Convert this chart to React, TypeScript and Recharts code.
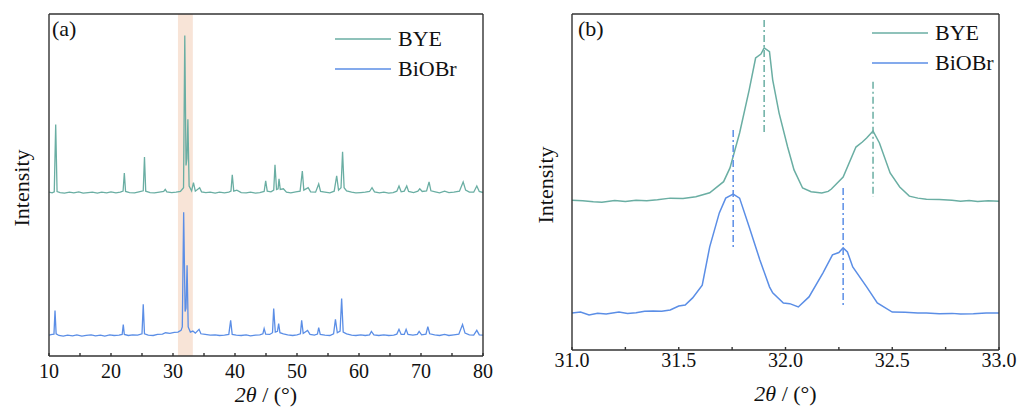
import React from "react";
import { LineChart, Line, XAxis, YAxis, ReferenceArea, ReferenceLine, Legend } from "recharts";

// XRD patterns, panel (a): [2θ, intensity a.u.]
const BYE_A: [number, number][] = [
  [10.0, 6.2], [10.5, 6.0], [10.85, 6.3], [11.08, 26.0], [11.3, 6.4], [11.8, 6.1], [12.5, 5.9], [13.3, 6.2],
  [14.0, 6.0], [14.8, 6.3], [15.5, 5.9], [16.3, 6.1], [17.0, 6.2], [17.8, 5.9], [18.5, 6.2], [19.3, 6.0],
  [20.0, 6.3], [20.8, 6.0], [21.5, 6.2], [21.95, 6.5], [22.15, 11.8], [22.35, 6.4], [23.0, 6.1], [23.8, 6.0],
  [24.5, 6.3], [25.2, 6.6], [25.4, 16.5], [25.6, 6.5], [26.3, 6.1], [27.0, 6.0], [27.8, 6.2], [28.5, 6.4],
  [28.75, 7.0], [29.0, 6.3], [29.8, 6.1], [30.5, 6.2], [31.2, 6.4], [31.7, 7.5], [31.9, 52.0], [32.1, 14.0],
  [32.25, 16.0], [32.4, 27.5], [32.6, 8.0], [33.0, 6.6], [33.3, 9.0], [33.6, 6.5], [34.3, 7.5], [34.6, 6.3],
  [35.3, 6.1], [36.0, 6.2], [36.8, 5.9], [37.5, 6.2], [38.3, 6.0], [39.0, 6.2], [39.35, 6.5], [39.56, 11.3],
  [39.8, 6.5], [40.3, 6.8], [41.0, 6.1], [41.8, 6.0], [42.5, 6.2], [43.3, 5.9], [44.0, 6.1], [44.7, 6.4],
  [44.95, 9.5], [45.2, 6.5], [45.8, 6.3], [46.25, 6.8], [46.45, 14.2], [46.7, 7.0], [46.95, 7.2], [47.1, 10.1],
  [47.3, 7.0], [47.8, 7.2], [48.3, 6.2], [49.0, 6.0], [49.8, 6.3], [50.5, 6.5], [50.86, 12.4], [51.1, 6.8],
  [51.8, 7.5], [52.2, 6.3], [53.0, 6.2], [53.5, 8.6], [53.8, 6.4], [54.5, 6.2], [55.3, 6.0], [56.0, 6.5],
  [56.4, 11.0], [56.7, 6.8], [57.1, 7.5], [57.35, 18.0], [57.6, 7.5], [58.0, 6.6], [58.8, 6.2], [59.5, 6.0],
  [60.3, 6.1], [61.0, 6.2], [61.7, 6.4], [62.1, 7.5], [62.5, 6.3], [63.3, 6.0], [64.0, 6.2], [64.8, 5.9],
  [65.5, 6.1], [66.1, 6.5], [66.45, 8.0], [66.8, 6.3], [67.3, 6.5], [67.7, 8.0], [68.0, 6.4], [68.8, 6.1],
  [69.5, 6.5], [69.8, 7.2], [70.2, 6.4], [70.9, 6.6], [71.3, 9.2], [71.6, 6.6], [72.3, 6.3], [73.0, 6.0],
  [73.8, 6.5], [74.5, 6.1], [75.3, 6.2], [76.2, 6.5], [76.8, 9.2], [77.2, 6.8], [77.8, 6.2], [78.5, 6.2],
  [79.0, 8.0], [79.4, 6.4], [80.0, 6.1],
];

const BIOBR_A: [number, number][] = [
  [10.0, 6.1], [10.5, 6.3], [10.8, 6.4], [10.97, 13.3], [11.15, 6.5], [11.6, 6.0], [12.3, 5.8], [13.0, 6.1],
  [13.8, 5.9], [14.5, 6.2], [15.3, 5.8], [16.0, 6.0], [16.8, 6.2], [17.5, 5.9], [18.3, 6.1], [19.0, 5.8],
  [19.8, 6.2], [20.5, 6.0], [21.3, 6.1], [21.8, 6.3], [21.98, 9.2], [22.15, 6.3], [22.8, 6.0], [23.5, 6.2],
  [24.3, 6.1], [25.0, 6.5], [25.2, 15.1], [25.4, 6.5], [26.0, 6.1], [26.8, 6.0], [27.5, 6.3], [28.3, 6.4],
  [28.8, 6.8], [29.5, 6.6], [30.2, 6.9], [30.8, 7.0], [31.3, 7.5], [31.5, 8.5], [31.72, 42.0], [31.95, 13.0],
  [32.1, 14.0], [32.27, 26.5], [32.45, 8.5], [32.8, 7.0], [33.2, 7.3], [33.6, 6.7], [34.2, 7.8], [34.5, 6.5],
  [35.2, 6.3], [36.0, 6.1], [36.8, 6.2], [37.5, 6.0], [38.3, 6.1], [39.0, 6.3], [39.3, 10.4], [39.55, 6.3],
  [40.2, 6.1], [41.0, 6.0], [41.8, 6.2], [42.5, 5.9], [43.3, 6.1], [44.0, 6.2], [44.5, 6.5], [44.7, 8.0],
  [44.95, 6.4], [45.6, 6.3], [46.05, 6.8], [46.24, 13.9], [46.5, 7.0], [46.85, 7.2], [47.04, 9.5], [47.25, 6.8],
  [47.8, 6.5], [48.5, 6.2], [49.3, 6.0], [50.0, 6.2], [50.55, 6.5], [50.75, 10.4], [51.0, 6.6], [51.7, 7.5],
  [52.1, 6.3], [52.8, 6.1], [53.3, 6.4], [53.5, 8.3], [53.75, 6.3], [54.5, 6.1], [55.3, 6.0], [55.9, 6.5],
  [56.2, 10.7], [56.5, 6.8], [56.95, 7.3], [57.2, 16.8], [57.45, 7.0], [58.0, 6.5], [58.8, 6.1], [59.5, 6.0],
  [60.3, 6.2], [61.0, 6.0], [61.7, 6.2], [62.0, 7.2], [62.4, 6.2], [63.2, 6.0], [64.0, 6.2], [64.8, 6.0],
  [65.6, 6.1], [66.1, 6.4], [66.45, 7.8], [66.8, 6.3], [67.3, 6.3], [67.6, 7.8], [67.9, 6.3], [68.7, 6.1],
  [69.4, 6.3], [69.7, 7.2], [70.1, 6.2], [70.8, 6.4], [71.1, 8.6], [71.4, 6.5], [72.2, 6.2], [73.0, 6.0],
  [73.8, 6.3], [74.5, 6.0], [75.3, 6.2], [76.1, 6.4], [76.7, 9.2], [77.1, 6.7], [77.8, 6.2], [78.5, 6.1],
  [79.0, 7.5], [79.4, 6.2], [80.0, 6.1],
];

// zoomed region, panel (b)
const BYE_B: [number, number][] = [
  [31.0, 11.0], [31.05, 10.8], [31.1, 10.5], [31.14, 10.4], [31.2, 10.9], [31.25, 10.6], [31.3, 11.0],
  [31.35, 10.8], [31.4, 11.1], [31.46, 11.6], [31.52, 11.5], [31.58, 12.0], [31.645, 13.2], [31.71, 16.5],
  [31.74, 20.6], [31.785, 31.0], [31.83, 43.8], [31.86, 53.3], [31.885, 54.5], [31.9, 56.3], [31.925, 55.2],
  [31.94, 46.8], [31.97, 36.9], [32.01, 26.8], [32.04, 20.0], [32.08, 14.6], [32.12, 13.5], [32.17, 13.1],
  [32.2, 13.6], [32.215, 14.3], [32.27, 17.9], [32.33, 26.8], [32.36, 28.3], [32.38, 29.5], [32.41, 31.6],
  [32.44, 28.0], [32.49, 19.1], [32.535, 14.9], [32.58, 12.2], [32.62, 11.6], [32.66, 11.3], [32.72, 11.2],
  [32.78, 11.0], [32.82, 10.7], [32.86, 10.9], [32.9, 10.6], [32.95, 10.8], [33.0, 10.7],
];

const BIOBR_B: [number, number][] = [
  [31.0, 11.0], [31.04, 11.3], [31.08, 10.4], [31.12, 10.9], [31.16, 10.7], [31.22, 11.3], [31.26, 10.9],
  [31.3, 11.1], [31.34, 11.5], [31.38, 11.6], [31.42, 11.5], [31.46, 11.9], [31.5, 13.1], [31.53, 13.4],
  [31.565, 15.5], [31.61, 19.3], [31.645, 30.7], [31.69, 40.8], [31.72, 45.2], [31.755, 46.4], [31.785, 45.2],
  [31.83, 36.6], [31.88, 26.8], [31.925, 18.8], [31.94, 17.0], [31.99, 14.0], [32.02, 13.8], [32.06, 12.8],
  [32.11, 15.8], [32.175, 22.9], [32.22, 28.3], [32.25, 29.0], [32.27, 30.4], [32.29, 29.2], [32.315, 24.7],
  [32.38, 18.8], [32.43, 14.0], [32.5, 11.3], [32.56, 11.2], [32.62, 11.0], [32.66, 11.0], [32.72, 10.8],
  [32.78, 10.9], [32.82, 10.7], [32.88, 10.8], [32.94, 11.0], [33.0, 11.0],
];

// peak markers in panel (b): [2θ, yFrom, yTo]
const BYE_PEAKS: [number, number, number][] = [[31.9, 98.2, 64.0], [32.41, 79.8, 45.5]];
const BIOBR_PEAKS: [number, number, number][] = [[31.755, 65.5, 30.4], [32.27, 48.2, 13.4]];

const TICKS_A = [10, 15, 20, 25, 30, 35, 40, 45, 50, 55, 60, 65, 70, 75, 80];
const TICKS_B = [31, 31.25, 31.5, 31.75, 32, 32.25, 32.5, 32.75, 33];
const BAND_A = [30.8, 33.2];

const OFFSET_A = 41.7;
const OFFSET_B = 33.6;

const TEAL = "#6aaea3";
const BLUE = "#5b8ee6";
const AXIS = "#333";
const FONT = "'Liberation Serif', 'Times New Roman', serif";

const toRows = (pts: [number, number][], off: number) => pts.map(([x, y]) => ({ x, y: y + off }));

const LegendBox = () => (
  <div style={{ fontFamily: FONT, fontSize: 22, color: "#111" }}>
    {[["BYE", TEAL], ["BiOBr", BLUE]].map(([name, c]) => (
      <div key={name} style={{ display: "flex", alignItems: "center", height: 30 }}>
        <svg width={56} height={4} style={{ marginRight: 7 }}>
          <line x1={0} x2={56} y1={2} y2={2} stroke={c} strokeWidth={1.5} />
        </svg>
        <span>{name}</span>
      </div>
    ))}
  </div>
);

const xTitle = (dy: number) => (props: any) => {
  const vb = props.viewBox;
  return (
    <text x={vb.x + vb.width / 2} y={vb.y + dy} textAnchor="middle" fontFamily={FONT} fontSize={22} fill="#111">
      <tspan fontStyle="italic">2θ</tspan>
      <tspan> / (°)</tspan>
    </text>
  );
};

const yTitle = (dx: number) => (props: any) => {
  const vb = props.viewBox;
  const cx = vb.x + vb.width - dx;
  const cy = vb.y + vb.height / 2 + 3;
  return (
    <text x={cx} y={cy} textAnchor="middle" dominantBaseline="central" transform={`rotate(-90 ${cx} ${cy})`}
      fontFamily={FONT} fontSize={22} fill="#111">
      Intensity
    </text>
  );
};

const tickStyle = { fontFamily: FONT, fontSize: 20, fill: "#111" };
const axisLine = { stroke: AXIS, strokeWidth: 1.4 };

export default function App() {
  return (
    <div style={{ position: "absolute", left: 0, top: 0, width: 1024, height: 410, background: "#fff" }}>
      <div style={{ position: "absolute", left: 0, top: 0 }}>
        <LineChart width={500} height={410} margin={{ top: 13, left: 48, right: 16, bottom: 14 }}>
          <XAxis dataKey="x" type="number" domain={[10, 80]} ticks={TICKS_A} interval={0}
            tickFormatter={(v) => (v % 10 === 0 ? String(v) : "")}
            height={40} tickSize={-3} tickMargin={11} tick={tickStyle}
            axisLine={axisLine} tickLine={axisLine}
            label={{ content: xTitle(46) }} allowDataOverflow />
          <XAxis xAxisId="top" orientation="top" dataKey="x" type="number" domain={[10, 80]} height={1}
            ticks={[10, 80]} tick={false} tickLine={false} axisLine={axisLine} />
          <YAxis domain={[0, 100]} width={1} ticks={[0, 100]} tick={false} tickLine={false} allowDataOverflow
            axisLine={axisLine} label={{ content: yTitle(28) }} />
          <YAxis yAxisId="right" orientation="right" domain={[0, 100]} width={1} ticks={[0, 100]} tick={false}
            tickLine={false} axisLine={axisLine} />
          <Line data={toRows(BYE_A, OFFSET_A)} dataKey="y" stroke={TEAL} strokeWidth={1.3} dot={false}
            type="linear" isAnimationActive={false} />
          <Line data={toRows(BIOBR_A, 0)} dataKey="y" stroke={BLUE} strokeWidth={1.3} dot={false}
            type="linear" isAnimationActive={false} />
          <ReferenceArea x1={BAND_A[0]} x2={BAND_A[1]} y1={0} y2={100} fill="#e9a57a" fillOpacity={0.3}
            stroke="none" ifOverflow="hidden" />
          <Legend layout="vertical" align="center" verticalAlign="middle" content={<LegendBox />}
            wrapperStyle={{ left: 335, top: 24, width: 140 }} />
        </LineChart>
      </div>
      <div style={{ position: "absolute", left: 52, top: 16, fontFamily: FONT, fontSize: 22, color: "#111" }}>(a)</div>

      <div style={{ position: "absolute", left: 520, top: 0 }}>
        <LineChart width={504} height={410} margin={{ top: 13, left: 51, right: 24, bottom: 20 }}>
          <XAxis dataKey="x" type="number" domain={[31, 33]} ticks={TICKS_B} interval={0}
            tickFormatter={(v) => (Math.round(v * 100) % 50 === 0 ? v.toFixed(1) : "")}
            height={40} tickSize={-3} tickMargin={6} tick={tickStyle}
            axisLine={axisLine} tickLine={axisLine}
            label={{ content: xTitle(51) }} allowDataOverflow />
          <XAxis xAxisId="top" orientation="top" dataKey="x" type="number" domain={[31, 33]} height={1}
            ticks={[31, 33]} tick={false} tickLine={false} axisLine={axisLine} />
          <YAxis domain={[0, 100]} width={1} ticks={[0, 100]} tick={false} tickLine={false} allowDataOverflow
            axisLine={axisLine} label={{ content: yTitle(27) }} />
          <YAxis yAxisId="right" orientation="right" domain={[0, 100]} width={1} ticks={[0, 100]} tick={false}
            tickLine={false} axisLine={axisLine} />
          <Line data={toRows(BYE_B, OFFSET_B)} dataKey="y" stroke={TEAL} strokeWidth={1.5} dot={false}
            type="linear" isAnimationActive={false} />
          <Line data={toRows(BIOBR_B, 0)} dataKey="y" stroke={BLUE} strokeWidth={1.5} dot={false}
            type="linear" isAnimationActive={false} />
          {BYE_PEAKS.map(([x, a, b]) => (
            <ReferenceLine key={`t${x}`} segment={[{ x, y: a }, { x, y: b }]} stroke={TEAL} strokeWidth={1.5}
              strokeDasharray="7 3 2 3" ifOverflow="visible" />
          ))}
          {BIOBR_PEAKS.map(([x, a, b]) => (
            <ReferenceLine key={`b${x}`} segment={[{ x, y: a }, { x, y: b }]} stroke={BLUE} strokeWidth={1.5}
              strokeDasharray="7 3 2 3" ifOverflow="visible" />
          ))}
          <Legend layout="vertical" align="center" verticalAlign="middle" content={<LegendBox />}
            wrapperStyle={{ left: 352, top: 18, width: 140 }} />
        </LineChart>
      </div>
      <div style={{ position: "absolute", left: 578, top: 16, fontFamily: FONT, fontSize: 22, color: "#111" }}>(b)</div>
    </div>
  );
}
